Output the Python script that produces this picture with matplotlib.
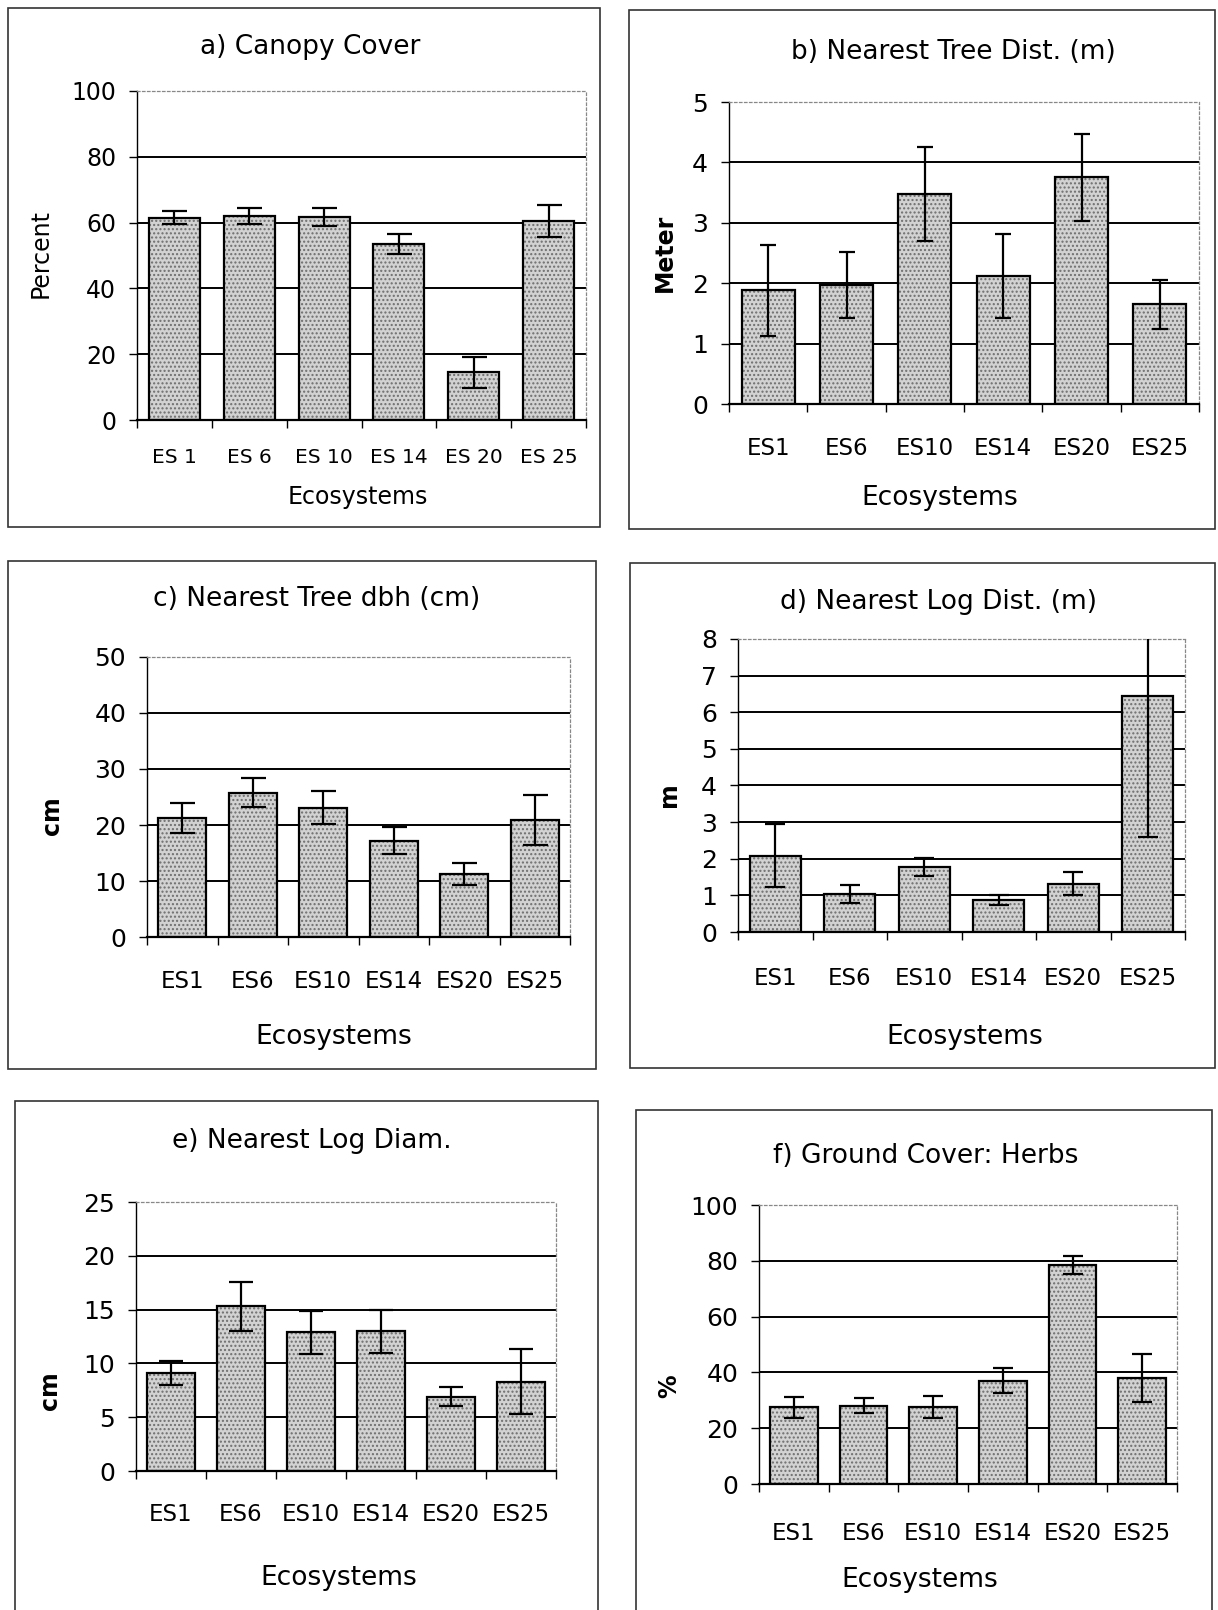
import numpy as np
import matplotlib
matplotlib.use("Agg")
import matplotlib.pyplot as plt
from matplotlib.patches import Rectangle

W, H = 1218, 1610

cats_a = ["ES 1", "ES 6", "ES 10", "ES 14", "ES 20", "ES 25"]
cats = ["ES1", "ES6", "ES10", "ES14", "ES20", "ES25"]

canopy = [61.5, 62.0, 61.8, 53.5, 14.5, 60.5]
canopy_err = [2.0, 2.5, 2.7, 3.0, 4.8, 4.8]

tree_dist = [1.88, 1.97, 3.48, 2.12, 3.75, 1.65]
tree_dist_err = [0.75, 0.54, 0.78, 0.69, 0.72, 0.40]

tree_dbh = [21.2, 25.8, 23.1, 17.2, 11.2, 20.9]
tree_dbh_err = [2.7, 2.6, 3.0, 2.4, 2.0, 4.5]

log_dist = [2.08, 1.03, 1.78, 0.88, 1.32, 6.45]
log_dist_err = [0.86, 0.24, 0.25, 0.13, 0.31, 3.85]

log_diam = [9.1, 15.3, 12.9, 13.0, 6.9, 8.3]
log_diam_err = [1.1, 2.25, 2.0, 2.0, 0.9, 3.0]

herbs = [27.5, 28.0, 27.5, 37.0, 78.5, 38.0]
herbs_err = [3.7, 2.7, 4.0, 4.5, 3.3, 8.5]

fig = plt.figure(figsize=(W / 100, H / 100), dpi=100)


def fx(x):
    return x / W


def fy(y):
    return 1 - y / H


def box(x0, y0, x1, y1):
    fig.patches.append(Rectangle((fx(x0), fy(y1)), fx(x1 - x0), (y1 - y0) / H,
                                 transform=fig.transFigure, fill=False,
                                 edgecolor="#333333", lw=1.2))


def panel(ax_px, vals, errs, labels, yticks, title, title_xy, ylabel, ylab_xy,
          ylab_bold, xlab_xy, capsize, xt_size=16.5, yt_size=18, xl_size=19, xpad=20):
    x0, y0, x1, y1 = ax_px
    ax = fig.add_axes([fx(x0), fy(y1), fx(x1 - x0), (y1 - y0) / H])
    x = np.arange(len(vals))
    # stippled fill, then a separate black outline
    ax.bar(x, vals, width=0.68, color="#d2d2d2", edgecolor="#6e6e6e", hatch="....", lw=0, zorder=2)
    ax.bar(x, vals, width=0.68, fill=False, edgecolor="black", lw=1.6, zorder=3)
    ax.errorbar(x, vals, yerr=errs, fmt="none", ecolor="black", elinewidth=1.6,
                capsize=capsize, capthick=1.6, zorder=4)
    ax.set_xlim(-0.5, len(vals) - 0.5)
    ax.set_ylim(yticks[0], yticks[-1])
    ax.set_yticks(yticks)
    ax.set_xticks(x)
    ax.set_xticklabels(labels, fontsize=xt_size)
    ax.set_xticks(np.arange(-0.5, len(vals)), minor=True)
    ax.tick_params(axis="x", which="major", length=0, pad=xpad)
    ax.tick_params(axis="x", which="minor", length=6, width=1, direction="out")
    ax.tick_params(axis="y", length=6, width=1, pad=9, labelsize=yt_size)
    ax.yaxis.grid(True, color="black", lw=1.4, zorder=1)
    ax.get_ygridlines()[-1].set_visible(False)
    ax.set_axisbelow(True)
    for s in ("top", "right"):
        ax.spines[s].set_linestyle((0, (2, 2)))
        ax.spines[s].set_color("#888888")
        ax.spines[s].set_linewidth(0.9)
    ax.spines["left"].set_linewidth(1.0)
    ax.spines["bottom"].set_linewidth(1.6)
    fig.text(fx(title_xy[0]), fy(title_xy[1]), title, ha="center", va="center", fontsize=19)
    fig.text(fx(xlab_xy[0]), fy(xlab_xy[1]), "Ecosystems", ha="center", va="center", fontsize=xl_size)
    fig.text(fx(ylab_xy[0]), fy(ylab_xy[1]), ylabel, ha="center", va="center", rotation=90,
             fontsize=17, fontweight="bold" if ylab_bold else "normal")
    return ax


box(8, 8, 600, 527)
box(629, 10, 1215, 529)
box(8, 561, 596, 1069)
box(630, 563, 1215, 1068)
box(15, 1101, 598, 1640)
box(636, 1110, 1212, 1640)

panel((137, 91, 586, 420), canopy, canopy_err, cats_a, [0, 20, 40, 60, 80, 100],
      "a) Canopy Cover", (310, 47), "Percent", (41, 253), False, (358, 497), 9,
      xt_size=14.5, yt_size=17, xl_size=17, xpad=20)
panel((729, 102, 1199, 404), tree_dist, tree_dist_err, cats, [0, 1, 2, 3, 4, 5],
      "b) Nearest Tree Dist. (m)", (953, 52), "Meter", (665, 253), True, (940, 498), 6,
      xpad=24)
panel((147, 657, 570, 937), tree_dbh, tree_dbh_err, cats, [0, 10, 20, 30, 40, 50],
      "c) Nearest Tree dbh (cm)", (317, 599), "cm", (52, 816), True, (334, 1037), 9,
      xpad=24)
panel((738, 639, 1185, 932), log_dist, log_dist_err, cats, [0, 1, 2, 3, 4, 5, 6, 7, 8],
      "d) Nearest Log Dist. (m)", (939, 602), "m", (669, 795), True, (965, 1037), 7,
      xpad=25)
panel((136, 1202, 556, 1471), log_diam, log_diam_err, cats, [0, 5, 10, 15, 20, 25],
      "e) Nearest Log Diam.", (312, 1141), "cm", (50, 1391), True, (339, 1578), 8.5,
      xpad=23)
panel((759, 1205, 1177, 1484), herbs, herbs_err, cats, [0, 20, 40, 60, 80, 100],
      "f) Ground Cover: Herbs", (926, 1156), "%", (669, 1386), True, (920, 1580), 7,
      xpad=27)

fig.savefig("out.png", dpi=100)
